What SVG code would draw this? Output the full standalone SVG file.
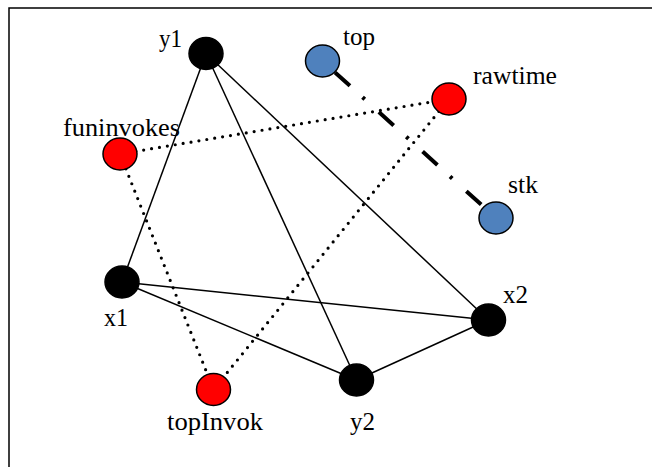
<svg xmlns="http://www.w3.org/2000/svg" width="652" height="467" viewBox="0 0 652 467">
<style>
.solid{stroke:#000;stroke-width:1.5;fill:none}
.dot{stroke:#000;stroke-width:3.2;fill:none;stroke-dasharray:0 8;stroke-linecap:round}
.dashdot{stroke:#000;stroke-width:4;fill:none;stroke-dasharray:20 17 3 19}
.blk{fill:#000;stroke:#000;stroke-width:1.5}
.red{fill:#FF0000;stroke:#000;stroke-width:1.5}
.blue{fill:#4F81BD;stroke:#000;stroke-width:1.5}
.lbl{font-family:"Liberation Serif","Times New Roman",Times,serif;font-size:25px;fill:#000}
</style>
<rect width="652" height="467" fill="#fff"/>
<path d="M9,467 V8 H652" stroke="#000" stroke-width="1.5" fill="none"/>
<g id="connectors">
<line class="solid" x1="206" y1="53.5" x2="122" y2="282"/>
<line class="solid" x1="206" y1="53.5" x2="356.5" y2="380"/>
<line class="solid" x1="206" y1="53.5" x2="488.5" y2="320"/>
<line class="solid" x1="122" y1="282" x2="488.5" y2="320"/>
<line class="solid" x1="122" y1="282" x2="356.5" y2="380"/>
<line class="solid" x1="356.5" y1="380" x2="488.5" y2="320"/>
<line class="dot" x1="120" y1="154" x2="449" y2="99"/>
<line class="dot" x1="120" y1="154" x2="213.5" y2="389.5"/>
<line class="dot" x1="449" y1="99" x2="213.5" y2="389.5"/>
<line class="dashdot" x1="335.1" y1="72.4" x2="496" y2="218"/>
</g>
<g id="y1"><ellipse class="blk" cx="206" cy="53.5" rx="17" ry="16"/><text class="lbl" x="159" y="47" textLength="23" lengthAdjust="spacingAndGlyphs">y1</text></g>
<g id="top"><ellipse class="blue" cx="322.5" cy="61" rx="17" ry="16"/><text class="lbl" x="343" y="45" textLength="32" lengthAdjust="spacingAndGlyphs">top</text></g>
<g id="rawtime"><ellipse class="red" cx="449" cy="99" rx="17" ry="16"/><text class="lbl" x="473" y="84" textLength="84" lengthAdjust="spacingAndGlyphs">rawtime</text></g>
<g id="funinvokes"><ellipse class="red" cx="120" cy="154" rx="17" ry="16"/><text class="lbl" x="63" y="136" textLength="117" lengthAdjust="spacingAndGlyphs">funinvokes</text></g>
<g id="stk"><ellipse class="blue" cx="496" cy="218" rx="17" ry="16"/><text class="lbl" x="508" y="193" textLength="30" lengthAdjust="spacingAndGlyphs">stk</text></g>
<g id="x1"><ellipse class="blk" cx="122" cy="282" rx="17" ry="16"/><text class="lbl" x="104" y="326" textLength="24" lengthAdjust="spacingAndGlyphs">x1</text></g>
<g id="x2"><ellipse class="blk" cx="488.5" cy="320" rx="17" ry="16"/><text class="lbl" x="503" y="303" textLength="25" lengthAdjust="spacingAndGlyphs">x2</text></g>
<g id="y2"><ellipse class="blk" cx="356.5" cy="380" rx="17" ry="16"/><text class="lbl" x="350" y="430" textLength="25" lengthAdjust="spacingAndGlyphs">y2</text></g>
<g id="topInvok"><ellipse class="red" cx="213.5" cy="389.5" rx="17" ry="16"/><text class="lbl" x="167" y="430" textLength="96" lengthAdjust="spacingAndGlyphs">topInvok</text></g>
</svg>
